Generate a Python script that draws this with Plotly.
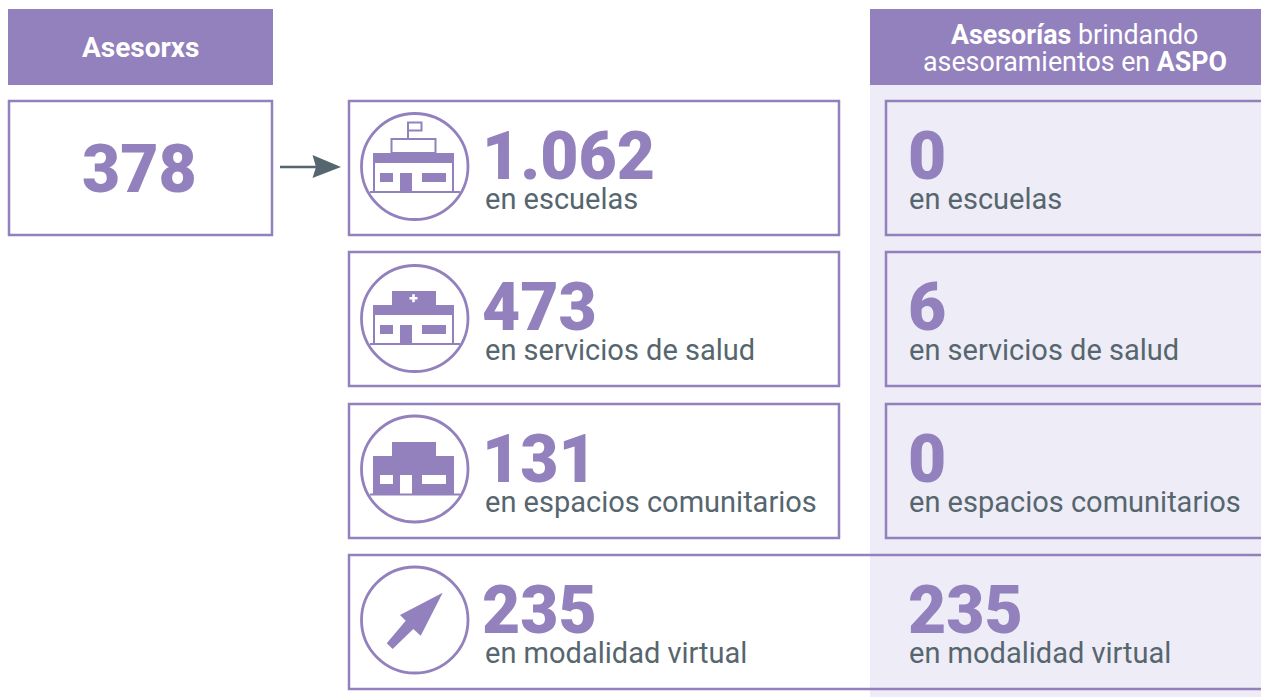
import plotly.graph_objects as go

PURPLE = "#9381BD"
PANEL = "#EEECF6"
GREY = "#56666E"
W, H = 1261, 697

header_left = "Asesorxs"
header_right_lines = ["<b>Asesorías</b> brindando", "asesoramientos en <b>ASPO</b>"]
total_asesorxs = "378"
categories = ["en escuelas", "en servicios de salud", "en espacios comunitarios", "en modalidad virtual"]
asesorias = ["1.062", "473", "131", "235"]
aspo = ["0", "6", "0", "235"]

row_tops = [101, 252, 404, 555]
BIG = 66
SMALL = 29
FONT = "Roboto"

shapes = []
annots = []


def rect(x0, y0, x1, y1, fill=None, line=None, lw=2.5):
    shapes.append(dict(type="rect", xref="x", yref="y", x0=x0, y0=y0, x1=x1, y1=y1,
                       fillcolor=fill or "rgba(0,0,0,0)",
                       line=dict(color=line or "rgba(0,0,0,0)", width=lw if line else 0)))


def poly(pts, fill=None, line=None, lw=2, close=True):
    d = "M " + " L ".join(f"{x},{y}" for x, y in pts) + (" Z" if close else "")
    shapes.append(dict(type="path", xref="x", yref="y", path=d,
                       fillcolor=fill or "rgba(0,0,0,0)",
                       line=dict(color=line or "rgba(0,0,0,0)", width=lw if line else 0)))


def text(x, y, s, size, color=PURPLE, weight="normal", xanchor="left", yanchor="middle"):
    annots.append(dict(x=x, y=y, xref="x", yref="y", text=s,
                       showarrow=False, xanchor=xanchor, yanchor=yanchor, align="center",
                       borderpad=0, borderwidth=0,
                       font=dict(family=FONT, size=size, color=color, weight=weight)))


# panels and headers
rect(870, 85, W + 5, H + 5, fill=PANEL)
rect(8, 9, 273, 85, fill=PURPLE)
rect(870, 9, W + 5, 85, fill=PURPLE)
text(140.5, 47.5, header_left, 28, color="white", weight=700, xanchor="center")
text(1074.5, 35, header_right_lines[0], 26.8, color="white", xanchor="center")
text(1074.5, 62, header_right_lines[1], 26.8, color="white", xanchor="center")

# left box and arrow
rect(9, 101, 272, 235, line=PURPLE)
text(139.5, 169.5, total_asesorxs, BIG, weight=900, xanchor="center")
poly([(280, 167), (316, 167)], line=GREY, lw=2.5, close=False)
poly([(312.5, 155), (341, 167), (312.5, 178), (316, 167)], fill=GREY)

# row boxes
for i, top in enumerate(row_tops):
    if i < 3:
        rect(349, top, 839, top + 134, line=PURPLE)
        rect(886, top, W + 5, top + 134, line=PURPLE)
    else:
        rect(349, top, W + 5, top + 134, line=PURPLE)

# icons
for cy in (166.5, 318.5, 469, 620):
    shapes.append(dict(type="circle", xref="x", yref="y", x0=361.5, x1=468, y0=cy - 53, y1=cy + 53,
                       line=dict(color=PURPLE, width=2.8), fillcolor="rgba(0,0,0,0)"))


def building(dy, walls_filled=False):
    if walls_filled:
        rect(373, 456, 454, 494.5, fill=PURPLE)
        rect(392, 442, 436, 456, fill=PURPLE)
        for x0, x1 in ((380, 393), (422, 446)):
            rect(x0, 475, x1, 484, fill="white")
        rect(400, 475, 412, 494.5, fill="white")
        poly([(370, 494.5), (460, 494.5)], line=PURPLE, lw=2, close=False)
    else:
        rect(373, 153 + dy, 454, 163 + dy, fill=PURPLE)
        poly([(374, 163 + dy), (374, 192 + dy)], line=PURPLE, lw=2, close=False)
        poly([(453, 163 + dy), (453, 192 + dy)], line=PURPLE, lw=2, close=False)
        poly([(370, 192 + dy), (460, 192 + dy)], line=PURPLE, lw=2, close=False)
        rect(380, 173 + dy, 393, 182 + dy, fill=PURPLE)
        rect(422, 173 + dy, 446, 182 + dy, fill=PURPLE)
        rect(400, 173 + dy, 412, 192 + dy, fill=PURPLE)


building(0)
rect(391.5, 139, 435.5, 153, line=PURPLE, lw=2)
poly([(408, 139), (408, 122.5), (421.5, 122.5), (421.5, 130.5), (408, 130.5)], line=PURPLE, lw=2, close=False)
building(152)
rect(392, 291, 436, 305, fill=PURPLE)
rect(409.5, 297, 417.5, 299.5, fill="white")
rect(412.2, 294.2, 414.8, 302.2, fill="white")
building(0, walls_filled=True)
poly([(442.7, 592.7), (420.7, 635.7), (413.3, 629), (392.7, 649), (386.7, 643.3), (405.7, 620.7), (400, 615)], fill=PURPLE)

# texts
for i, top in enumerate(row_tops):
    text(482, top + 55, asesorias[i], BIG, weight=900)
    text(485, top + 98, categories[i], SMALL, color=GREY)
    text(908, top + 55, aspo[i], BIG, weight=900)
    text(908.5, top + 98, categories[i], SMALL, color=GREY)

fig = go.Figure()
fig.update_layout(
    width=W, height=H, margin=dict(l=0, r=0, t=0, b=0),
    paper_bgcolor="white", plot_bgcolor="white", showlegend=False,
    xaxis=dict(range=[0, W], visible=False, fixedrange=True),
    yaxis=dict(range=[H, 0], visible=False, fixedrange=True),
    shapes=shapes, annotations=annots, font=dict(family=FONT),
)
fig.write_html("out.html", config=dict(displayModeBar=False),
               post_script="document.body.style.margin='0';")
